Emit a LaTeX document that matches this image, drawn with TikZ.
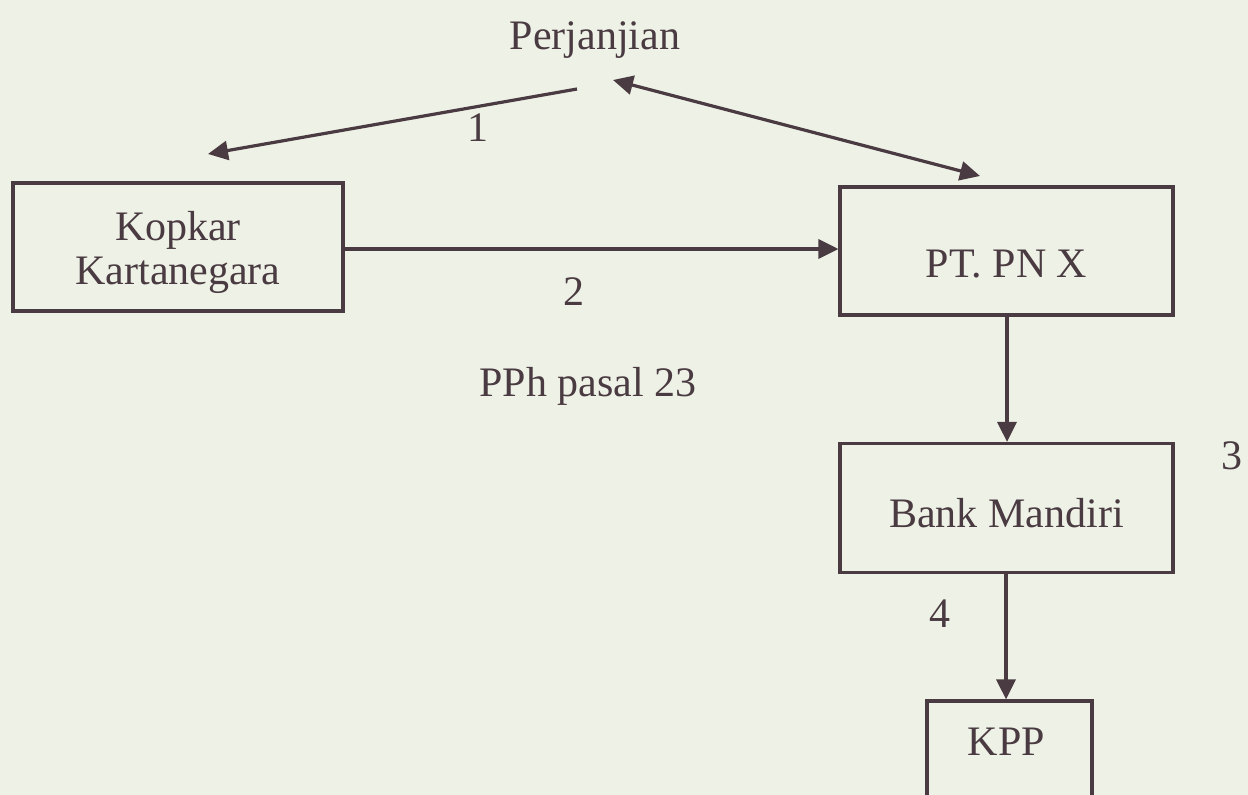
\documentclass[tikz,border=0pt]{standalone}
\usepackage{fontspec}
\setmainfont{Liberation Serif}
\usetikzlibrary{arrows.meta}
\definecolor{ink}{HTML}{4A3A41}
\definecolor{paper}{HTML}{EEF2E6}
\begin{document}
\begin{tikzpicture}[x=1pt,y=-1pt,
  every node/.style={text=ink,font=\fontsize{42}{44}\selectfont},
  box/.style={draw=ink,line width=3.2pt,inner sep=0pt,align=center,text depth=0pt},
  arr/.style={draw=ink,line width=3.2pt,-{Triangle[length=20pt,width=19pt]}},
  darr/.style={draw=ink,line width=3.2pt,{Triangle[length=20pt,width=19pt]}-{Triangle[length=20pt,width=19pt]}},
  lbl/.style={inner sep=0pt}]
\fill[paper] (0,0) rectangle (1248,795);
\useasboundingbox (0,0) rectangle (1248,795);
\clip (0,0) rectangle (1248,795);

\node[box,minimum width=330pt,minimum height=128pt] (kop) at (178,247) {};
\node[lbl,align=center,font=\fontsize{42}{44}\selectfont] (koptext) at (178,252) {Kopkar\\Kartanegara};
\node[box,minimum width=333pt,minimum height=128pt,text height=52pt] (pt) at (1006.5,251) {PT. PN X};
\node[box,minimum width=333pt,minimum height=129pt,text height=38pt] (bank) at (1006.5,508) {Bank Mandiri};
\node[box,minimum width=165pt,minimum height=130pt,text height=10pt,text depth=32pt] (kpp) at (1009.5,766) {\hspace*{-6pt}KPP};

\node[lbl] (perj) at (595,40) {Perjanjian};
\node[lbl] (l1) at (478,128) {1};
\node[lbl] (l2) at (574,292) {2};
\node[lbl] (pph) at (588,386) {PPh pasal 23};
\node[lbl] (l3) at (1232,456) {3};
\node[lbl] (l4) at (940,614) {4};

\coordinate (a1s) at (577,89);
\coordinate (a1e) at (208,154);
\coordinate (dA) at (613,80);
\coordinate (dB) at (980,176);

\draw[arr] (a1s) -- (a1e);
\draw[darr] (dA) -- (dB);
\draw[arr] (kop.east) ++(0,2) -- (pt.west |- 0,249);
\draw[arr] (pt.south -| 1007,0) -- (bank.north -| 1007,0);
\draw[arr] (bank.south -| 1006,0) -- (kpp.north -| 1006,0);
\end{tikzpicture}
\end{document}
